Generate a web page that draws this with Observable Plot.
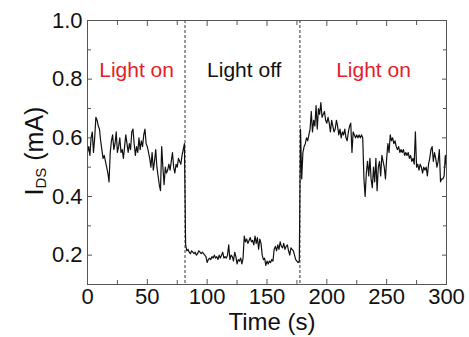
<!DOCTYPE html>
<html><head><meta charset="utf-8">
<script src="https://cdn.jsdelivr.net/npm/d3@7"></script>
<script src="https://cdn.jsdelivr.net/npm/@observablehq/plot@0.6"></script>
<style>body{margin:0;background:#fff} svg{display:block}</style>
</head><body><div id="chart"></div>
<script>
// Drain-source current (mA), sampled once per second, t = 0 … 300 s
const current = [
  0.55,0.57,0.54,0.60,0.62,0.55,0.60,0.67,0.66,0.64,
  0.63,0.59,0.56,0.53,0.54,0.52,0.50,0.48,0.45,0.55,
  0.59,0.61,0.56,0.58,0.62,0.55,0.57,0.60,0.55,0.56,
  0.53,0.57,0.61,0.58,0.55,0.58,0.56,0.62,0.63,0.58,
  0.54,0.57,0.55,0.60,0.56,0.59,0.57,0.61,0.63,0.58,
  0.57,0.55,0.53,0.50,0.55,0.49,0.52,0.56,0.50,0.47,
  0.44,0.42,0.57,0.50,0.44,0.50,0.48,0.49,0.51,0.49,
  0.52,0.55,0.50,0.48,0.51,0.50,0.53,0.52,0.51,0.54,
  0.56,0.58,
  0.235,0.215,0.22,0.21,0.205,0.215,0.21,0.205,
  0.21,0.20,0.205,0.215,0.21,0.205,0.21,0.205,0.20,0.195,
  0.175,0.185,0.19,0.185,0.195,0.19,0.20,0.19,0.195,0.185,
  0.20,0.19,0.20,0.21,0.19,0.195,0.19,0.20,0.235,0.185,
  0.20,0.195,0.18,0.21,0.195,0.17,0.185,0.18,0.19,0.17,
  0.19,0.265,0.245,0.255,0.24,0.25,0.26,0.245,0.25,0.235,
  0.265,0.24,0.26,0.22,0.255,0.24,0.20,0.185,0.19,0.165,
  0.18,0.17,0.18,0.175,0.185,0.18,0.22,0.23,0.215,0.235,
  0.22,0.245,0.23,0.225,0.24,0.22,0.23,0.235,0.215,0.20,
  0.225,0.22,0.215,0.20,0.185,0.18,0.175,0.18,
  0.63,0.46,
  0.55,0.57,0.58,0.60,0.59,0.61,0.63,0.69,0.62,0.66,
  0.64,0.71,0.63,0.70,0.68,0.72,0.67,0.68,0.69,0.66,
  0.65,0.67,0.65,0.62,0.66,0.64,0.62,0.63,0.66,0.64,
  0.61,0.63,0.60,0.62,0.61,0.63,0.60,0.59,0.62,0.64,
  0.65,0.55,0.62,0.61,0.60,0.61,0.60,0.61,0.60,0.61,
  0.60,0.46,0.40,0.48,0.52,0.47,0.53,0.46,0.43,0.50,
  0.45,0.53,0.42,0.50,0.52,0.47,0.54,0.52,0.50,0.46,
  0.53,0.58,0.55,0.61,0.59,0.60,0.58,0.59,0.57,0.56,
  0.57,0.55,0.56,0.55,0.56,0.54,0.55,0.54,0.55,0.53,
  0.54,0.52,0.53,0.51,0.62,0.50,0.51,0.49,0.51,0.50,
  0.48,0.50,0.49,0.50,0.47,0.51,0.53,0.56,0.57,0.52,
  0.55,0.53,0.50,0.52,0.56,0.45,0.46,0.46,0.47,0.54,
  0.50
];
const switchTimes = [81.5, 177.5];
const phaseLabels = ["Light on", "Light off", "Light on"];
const phaseTimes = [41, 131, 239];
const phaseLevels = [0.83, 0.83, 0.83];
const phaseColors = ["#e3212b", "#111111", "#e3212b"];
const xMajor = [0, 50, 100, 150, 200, 250, 300];
const xMinor = [25, 75, 125, 175, 225, 275];
const yMajor = [0.2, 0.4, 0.6, 0.8, 1.0];
const yMinor = [0.3, 0.5, 0.7, 0.9];

const series = current.map((v, i) => ({t: i, i: v}));
const phases = phaseLabels.map((s, k) => ({s, t: phaseTimes[k], y: phaseLevels[k], c: phaseColors[k]}));

const frameColor = "#555";
const font = "Liberation Sans, Arial, sans-serif";

const chart = Plot.plot({
  width: 469,
  height: 337,
  marginLeft: 87,
  marginRight: 23,
  marginTop: 20,
  marginBottom: 53,
  style: {fontFamily: font, background: "#fff", color: "#111"},
  x: {domain: [0, 300]},
  y: {domain: [0.1, 1.0]},
  marks: [
    Plot.ruleX(switchTimes, {stroke: "#333", strokeWidth: 1, strokeDasharray: "3,2"}),
    Plot.line(series, {x: "t", y: "i", stroke: "#111", strokeWidth: 1.2}),
    Plot.text(phases, {x: "t", y: "y", text: "s", fill: "c", fontSize: 21, fontFamily: font}),
    Plot.frame({stroke: frameColor, strokeWidth: 1}),
    // inward ticks, all four sides
    Plot.axisX(xMajor, {anchor: "bottom", tickSize: -5, text: null, stroke: frameColor, label: null}),
    Plot.axisX(xMinor, {anchor: "bottom", tickSize: -4, text: null, stroke: frameColor, label: null}),
    Plot.axisX(xMajor, {anchor: "top", tickSize: -5, text: null, stroke: frameColor, label: null}),
    Plot.axisX(xMinor, {anchor: "top", tickSize: -4, text: null, stroke: frameColor, label: null}),
    Plot.axisY(yMajor, {anchor: "left", tickSize: -5, text: null, stroke: frameColor, label: null}),
    Plot.axisY(yMinor, {anchor: "left", tickSize: -4, text: null, stroke: frameColor, label: null}),
    Plot.axisY(yMajor, {anchor: "right", tickSize: -5, text: null, stroke: frameColor, label: null}),
    Plot.axisY(yMinor, {anchor: "right", tickSize: -4, text: null, stroke: frameColor, label: null}),
    // tick labels
    Plot.axisX(xMajor, {anchor: "bottom", tickSize: 0, tickPadding: 4, fontSize: 22, fill: "#111", label: null}),
    Plot.axisY(yMajor, {anchor: "left", tickSize: 0, tickPadding: 5, fontSize: 22, fill: "#111", tickFormat: d3.format(".1f"), label: null})
  ]
});

document.getElementById("chart").append(chart);

// Axis titles (y title carries a subscript)
const svg = d3.select(chart);
svg.append("text")
  .attr("x", 272).attr("y", 330)
  .attr("text-anchor", "middle")
  .attr("font-family", font)
  .attr("font-size", 24)
  .attr("fill", "#111")
  .text("Time (s)");
const yt = svg.append("text")
  .attr("transform", "translate(43,151) rotate(-90)")
  .attr("text-anchor", "middle")
  .attr("font-family", font)
  .attr("font-size", 25)
  .attr("fill", "#111");
yt.append("tspan").text("I");
yt.append("tspan").attr("font-size", 15).attr("dy", 3).text("DS");
yt.append("tspan").attr("dy", -3).text(" (mA)");
</script>
</body></html>
